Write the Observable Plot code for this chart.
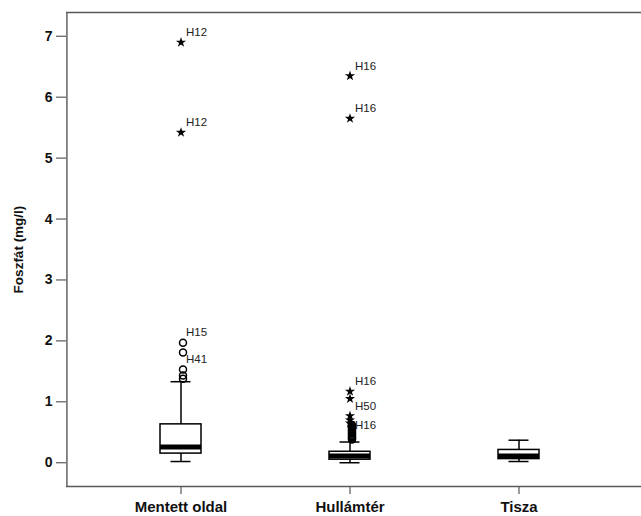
<!DOCTYPE html>
<html><head><meta charset="utf-8">
<script src="https://cdn.jsdelivr.net/npm/d3@7"></script>
<script src="https://cdn.jsdelivr.net/npm/@observablehq/plot@0.6"></script>
<style>
html,body{margin:0;padding:0;background:#fff;overflow:hidden}
svg{font-family:"Liberation Sans",Arial,sans-serif;display:block}
</style>
</head><body><div id="chart"></div>
<script>
const categories = ["Mentett oldal", "Hullámtér", "Tisza"];
const whiskerLow  = [0.02, 0.00, 0.02];
const q1          = [0.15, 0.05, 0.06];
const median      = [0.26, 0.11, 0.11];
const q3          = [0.63, 0.18, 0.21];
const whiskerHigh = [1.33, 0.34, 0.37];
const mentettCircles = [1.97, 1.81, 1.53, 1.43, 1.38];
const hullamCircles  = [0.62, 0.60, 0.58, 0.56, 0.54, 0.52, 0.50, 0.48, 0.46, 0.44, 0.42, 0.40, 0.38];
const mentettStars = [6.90, 5.42];
const hullamStars  = [6.35, 5.65, 1.17, 1.05, 0.77, 0.70, 0.65];
const labelCats   = ["Mentett oldal","Mentett oldal","Mentett oldal","Mentett oldal","Hullámtér","Hullámtér","Hullámtér","Hullámtér","Hullámtér"];
const labelValues = [6.90, 5.42, 1.97, 1.53, 6.35, 5.65, 1.17, 0.77, 0.45];
const labelTexts  = ["H12","H12","H15","H41","H16","H16","H16","H50","H16"];
const yTicks = [0, 1, 2, 3, 4, 5, 6, 7];
const yDomain = [-0.39, 7.39];
const yTitle = "Foszfát (mg/l)";

const boxes = categories.map((c, i) => ({cat: c, lo: whiskerLow[i], q1: q1[i], med: median[i], q3: q3[i], hi: whiskerHigh[i]}));
const circles = [
  ...mentettCircles.map(v => ({cat: categories[0], value: v})),
  ...hullamCircles.map(v => ({cat: categories[1], value: v}))
];
const stars = [
  ...mentettStars.map(v => ({cat: categories[0], value: v})),
  ...hullamStars.map(v => ({cat: categories[1], value: v}))
];
const labels = labelTexts.map((t, i) => ({cat: labelCats[i], value: labelValues[i], text: t}));

const frameColor = "#5a5a5a";
const W = 641, ML = 66;

const chart = Plot.plot({
  width: W,
  height: 516,
  marginLeft: ML,
  marginRight: 0,
  marginTop: 12,
  marginBottom: 30,
  x: {type: "band", domain: categories, range: [96.5, 603.5], paddingInner: 0.757, paddingOuter: 0.3785},
  y: {domain: yDomain},
  marks: [
    Plot.ruleY([yDomain[1]], {stroke: frameColor, strokeWidth: 1.5}),
    Plot.ruleY([yDomain[0]], {stroke: frameColor, strokeWidth: 1.5}),
    Plot.frame({stroke: frameColor, strokeWidth: 0.75, insetRight: W - ML - 0.75}),
    Plot.axisY({ticks: yTicks, tickSize: 10, tickPadding: 4, fontSize: 14, fontWeight: "bold", stroke: frameColor, strokeWidth: 1.2, color: "#111", label: null}),
    Plot.text([yTitle], {frameAnchor: "left", rotate: -90, dx: -48, fontSize: 13.5, fontWeight: "bold", fill: "#111", textAnchor: "middle"}),
    Plot.axisX({tickSize: 8, tickPadding: 7, fontSize: 15, fontWeight: "bold", stroke: frameColor, strokeWidth: 1.2, color: "#111", label: null}),
    Plot.ruleX(boxes, {x: "cat", y1: "lo", y2: "hi", stroke: "black", strokeWidth: 1.5}),
    Plot.tickY(boxes, {x: "cat", y: "lo", stroke: "black", strokeWidth: 1.5, insetLeft: 10.5, insetRight: 10.5}),
    Plot.tickY(boxes, {x: "cat", y: "hi", stroke: "black", strokeWidth: 1.5, insetLeft: 10.5, insetRight: 10.5}),
    Plot.barY(boxes, {x: "cat", y1: "q1", y2: "q3", fill: "white", stroke: "black", strokeWidth: 1.5}),
    Plot.tickY(boxes, {x: "cat", y: "med", stroke: "black", strokeWidth: 5}),
    Plot.dot(circles, {x: "cat", y: "value", r: 3.5, stroke: "black", strokeWidth: 1.5, fill: "none", dx: 2}),
    Plot.dot(stars, {x: "cat", y: "value", symbol: "star", r: 3.2, fill: "black", stroke: "none"}),
    Plot.text(labels, {x: "cat", y: "value", text: "text", dx: 5, dy: -10, textAnchor: "start", fontSize: 11.5, fill: "#222"})
  ]
});
document.getElementById("chart").appendChild(chart);
</script>
</body></html>
